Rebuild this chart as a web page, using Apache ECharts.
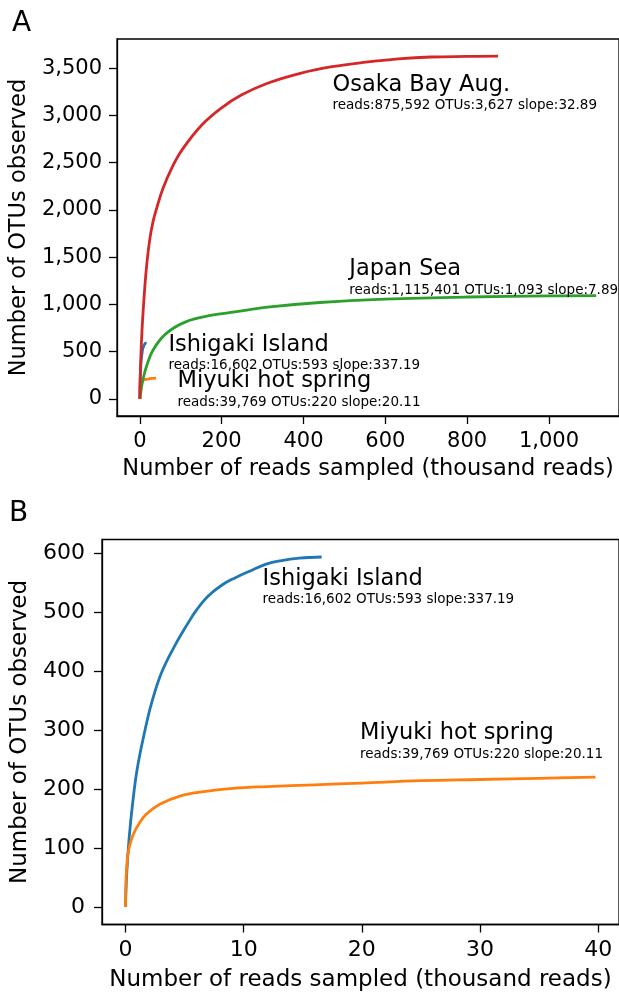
<!DOCTYPE html>
<html>
<head>
<meta charset="utf-8">
<script src="https://cdn.jsdelivr.net/npm/echarts@6/dist/echarts.min.js"></script>
<style>
html, body { margin: 0; padding: 0; background: #fff; }
#chart { width: 619px; height: 997px; }
</style>
</head>
<body>
<div id="chart"></div>
<script>
// rarefaction curves, x in thousand reads, y = OTUs observed
var osakaX = [0, 2, 5, 10, 16, 24, 32, 40, 56, 80, 104, 152, 200, 248, 312, 392, 470, 552, 632, 712, 800, 875.6];
var osakaY = [0, 380, 700, 1050, 1380, 1680, 1870, 2000, 2220, 2460, 2640, 2900, 3080, 3215, 3340, 3445, 3515, 3563, 3598, 3618, 3624, 3627];
var japanX = [0, 4, 8, 16, 32, 64, 112, 176, 232, 312, 440, 600, 800, 1000, 1115.4];
var japanY = [0, 120, 210, 340, 515, 690, 815, 885, 920, 970, 1020, 1055, 1078, 1089, 1093];
var ishigakiX = [0, 0.1, 0.3, 0.6, 1.0, 1.6, 2.2, 3.07, 4.29, 5.2, 6.0, 7.0, 8.2, 9.3, 10.5, 11.9, 13.2, 14.7, 16.6];
var ishigakiY = [0, 55, 115, 175, 235, 295, 345, 398, 447, 478, 503, 527, 546, 558, 569, 581, 587, 591, 593];
var miyukiX = [0, 0.05, 0.15, 0.3, 0.64, 1.2, 1.75, 2.9, 4.6, 6.8, 9.1, 12, 16, 20, 25, 30, 35, 39.77];
var miyukiY = [0, 50, 80, 100, 122, 143, 157, 174, 188, 196, 201, 204, 207, 210, 214, 216, 218, 220];

var ticksA_x = [0, 200, 400, 600, 800, 1000];
var ticksA_y = [0, 500, 1000, 1500, 2000, 2500, 3000, 3500];
var ticksB_x = [0, 10, 20, 30, 40];
var ticksB_y = [0, 100, 200, 300, 400, 500, 600];

// annotation text: [x, y, name, stats]
var notesA = [
    [471, 3450, 'Osaka Bay Aug.', 'reads:875,592 OTUs:3,627 slope:32.89'],
    [512, 1501, 'Japan Sea', 'reads:1,115,401 OTUs:1,093 slope:7.89'],
    [70, 701, 'Ishigaki Island', 'reads:16,602 OTUs:593 slope:337.19'],
    [92, 315, 'Miyuki hot spring', 'reads:39,769 OTUs:220 slope:20.11']
];
var notesB = [
    [11.6, 577, 'Ishigaki Island', 'reads:16,602 OTUs:593 slope:337.19'],
    [19.84, 315, 'Miyuki hot spring', 'reads:39,769 OTUs:220 slope:20.11']
];

var FONT = 'DejaVu Sans';
function zip(xs, ys) { return xs.map(function (x, i) { return [x, ys[i]]; }); }
function fmt(v) { return v.toLocaleString('en-US'); }

function xAxis(gi, min, max, ticks, fs, gap, ns) {
    return {
        type: 'value', gridIndex: gi, min: min, max: max,
        name: 'Number of reads sampled (thousand reads)',
        nameLocation: 'middle', nameGap: gap,
        nameTextStyle: { fontFamily: FONT, fontSize: ns, color: '#000' },
        axisLine: { show: true, onZero: false, lineStyle: { color: '#000', width: 1.3 } },
        axisTick: { show: true, length: 8, customValues: ticks, lineStyle: { color: '#000', width: 1.3 } },
        axisLabel: { customValues: ticks, margin: 15, fontFamily: FONT, fontSize: fs, color: '#000', formatter: fmt },
        splitLine: { show: false }
    };
}
function yAxis(gi, min, max, ticks, fs, gap, ns, margin) {
    return {
        type: 'value', gridIndex: gi, min: min, max: max,
        name: 'Number of OTUs observed',
        nameLocation: 'middle', nameGap: gap,
        nameTextStyle: { fontFamily: FONT, fontSize: ns, color: '#000' },
        axisLine: { show: true, onZero: false, lineStyle: { color: '#000', width: 1.3 } },
        axisTick: { show: true, length: 8, customValues: ticks, lineStyle: { color: '#000', width: 1.3 } },
        axisLabel: { customValues: ticks, margin: margin, fontFamily: FONT, fontSize: fs, color: '#000', formatter: fmt },
        splitLine: { show: false }
    };
}
function curve(name, xi, data, color) {
    return {
        name: name, type: 'line', xAxisIndex: xi, yAxisIndex: xi,
        data: data, showSymbol: false, smooth: 0.4,
        lineStyle: { color: color, width: 2.8 }, z: 3
    };
}
function notes(xi, data) {
    return {
        type: 'scatter', xAxisIndex: xi, yAxisIndex: xi, symbolSize: 0, silent: true,
        itemStyle: { opacity: 1 },
        data: data.map(function (d) { return { value: [d[0], d[1]], nm: d[2], st: d[3] }; }),
        label: {
            show: true, position: [0, 0], align: 'left', verticalAlign: 'top',
            color: '#000', opacity: 1, textBorderWidth: 0,
            formatter: function (p) { return '{n|' + p.data.nm + '}\n{s|' + p.data.st + '}'; },
            rich: {
                n: { fontFamily: FONT, fontSize: 22.5, lineHeight: 25, color: '#000', textBorderWidth: 0 },
                s: { fontFamily: FONT, fontSize: 13.5, lineHeight: 16, color: '#000', textBorderWidth: 0 }
            }
        },
        z: 5
    };
}

var chart = echarts.init(document.getElementById('chart'));
chart.setOption({
    backgroundColor: '#fff',
    animation: false,
    title: [
        { text: 'A', left: 12, top: 10, padding: 0, textStyle: { fontFamily: FONT, fontSize: 28, fontWeight: 'normal', color: '#000' } },
        { text: 'B', left: 9, top: 500, padding: 0, textStyle: { fontFamily: FONT, fontSize: 28, fontWeight: 'normal', color: '#000' } }
    ],
    grid: [
        { left: 114, top: 39, width: 511, height: 377, show: true, borderColor: '#000', borderWidth: 1.3, backgroundColor: 'transparent' },
        { left: 102, top: 539.5, width: 518, height: 385, show: true, borderColor: '#000', borderWidth: 1.3, backgroundColor: 'transparent' }
    ],
    xAxis: [
        xAxis(0, -55.77, 1171.17, ticksA_x, 21, 42, 22.5),
        xAxis(1, -1.988, 41.757, ticksB_x, 22, 44, 23)
    ],
    yAxis: [
        yAxis(0, -181.35, 3808.35, ticksA_y, 21, 82, 22.5, 15),
        yAxis(1, -29.65, 622.65, ticksB_y, 22, 70, 23, 17)
    ],
    series: [
        curve('Ishigaki Island', 0, zip(ishigakiX, ishigakiY), '#1f77b4'),
        curve('Miyuki hot spring', 0, zip(miyukiX, miyukiY), '#ff7f0e'),
        curve('Japan Sea', 0, zip(japanX, japanY), '#2ca02c'),
        curve('Osaka Bay Aug.', 0, zip(osakaX, osakaY), '#d62728'),
        curve('Ishigaki Island', 1, zip(ishigakiX, ishigakiY), '#1f77b4'),
        curve('Miyuki hot spring', 1, zip(miyukiX, miyukiY), '#ff7f0e'),
        notes(0, notesA),
        notes(1, notesB)
    ]
});
</script>
</body>
</html>
